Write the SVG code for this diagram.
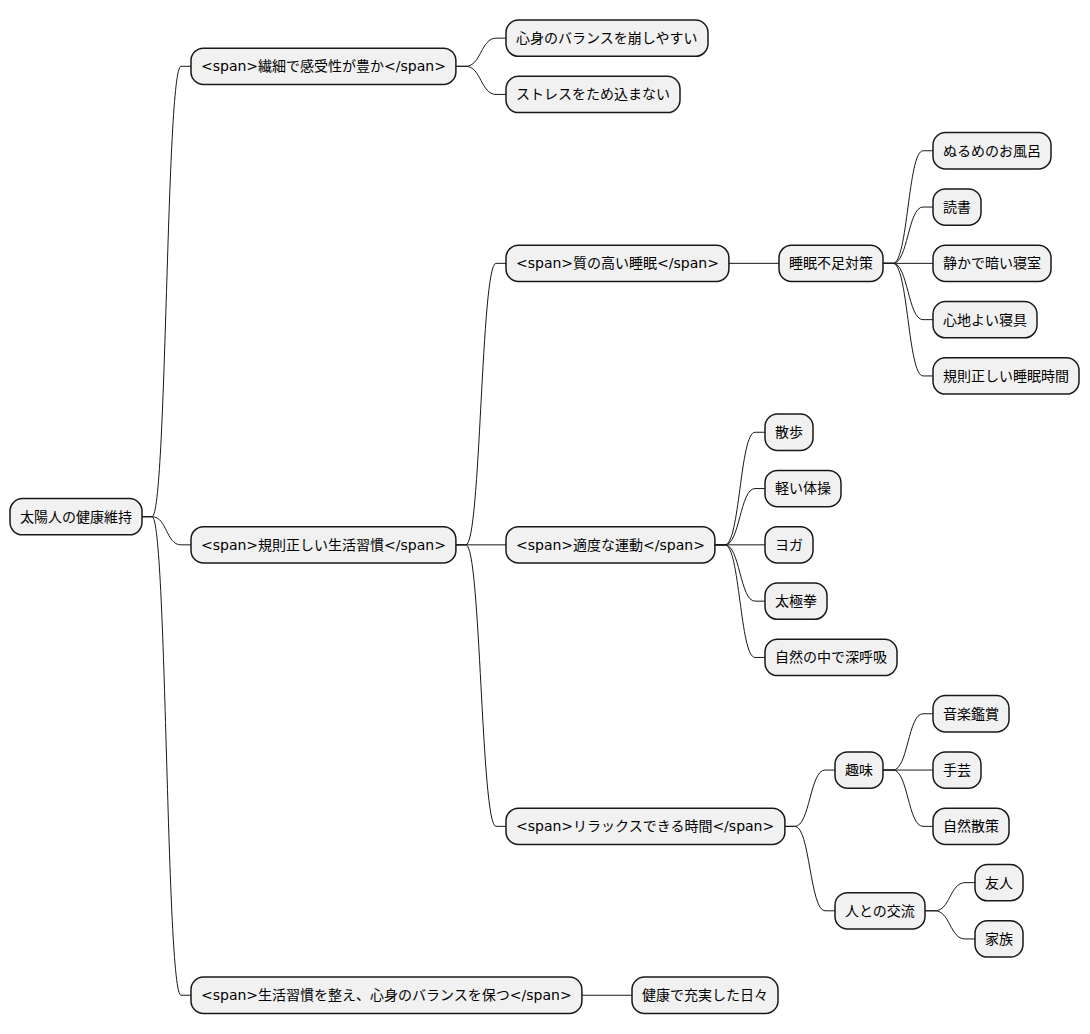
<svg xmlns="http://www.w3.org/2000/svg" width="1090" height="1034" viewBox="0 0 1090 1034">
<style>
.n rect{fill:#F1F1F1;stroke:#181818;stroke-width:1.5}
.n text{font-family:"DejaVu Sans","Noto Sans CJK JP",sans-serif;font-size:14px;fill:#000000}
#connectors path{fill:none;stroke:#181818;stroke-width:1}
</style>
<rect width="1090" height="1034" fill="#FFFFFF"/>
<g id="connectors">
<path d="M142,516.7 L152,516.7 C167,516.7 166,66.3 181,66.3 L191,66.3"/>
<path d="M142,516.7 L152,516.7 C167,516.7 166,544.85 181,544.85 L191,544.85"/>
<path d="M142,516.7 L152,516.7 C167,516.7 166,995.25 181,995.25 L191,995.25"/>
<path d="M455.9,66.3 L465.9,66.3 C480.9,66.3 481,38.15 496,38.15 L506,38.15"/>
<path d="M455.9,66.3 L465.9,66.3 C480.9,66.3 481,94.45 496,94.45 L506,94.45"/>
<path d="M455.9,544.85 L465.9,544.85 C480.9,544.85 481,263.35 496,263.35 L506,263.35"/>
<path d="M455.9,544.85 L506,544.85"/>
<path d="M455.9,544.85 L465.9,544.85 C480.9,544.85 481,826.35 496,826.35 L506,826.35"/>
<path d="M728.9,263.35 L779,263.35"/>
<path d="M883,263.35 L893,263.35 C908,263.35 908,150.75 923,150.75 L933,150.75"/>
<path d="M883,263.35 L893,263.35 C908,263.35 908,207.05 923,207.05 L933,207.05"/>
<path d="M883,263.35 L933,263.35"/>
<path d="M883,263.35 L893,263.35 C908,263.35 908,319.65 923,319.65 L933,319.65"/>
<path d="M883,263.35 L893,263.35 C908,263.35 908,375.95 923,375.95 L933,375.95"/>
<path d="M714.9,544.85 L724.9,544.85 C739.9,544.85 740,432.25 755,432.25 L765,432.25"/>
<path d="M714.9,544.85 L724.9,544.85 C739.9,544.85 740,488.55 755,488.55 L765,488.55"/>
<path d="M714.9,544.85 L765,544.85"/>
<path d="M714.9,544.85 L724.9,544.85 C739.9,544.85 740,601.15 755,601.15 L765,601.15"/>
<path d="M714.9,544.85 L724.9,544.85 C739.9,544.85 740,657.45 755,657.45 L765,657.45"/>
<path d="M784.9,826.35 L794.9,826.35 C809.9,826.35 810,770.05 825,770.05 L835,770.05"/>
<path d="M784.9,826.35 L794.9,826.35 C809.9,826.35 810,910.8 825,910.8 L835,910.8"/>
<path d="M883,770.05 L893,770.05 C908,770.05 908,713.75 923,713.75 L933,713.75"/>
<path d="M883,770.05 L933,770.05"/>
<path d="M883,770.05 L893,770.05 C908,770.05 908,826.35 923,826.35 L933,826.35"/>
<path d="M925,910.8 L935,910.8 C950,910.8 950,882.65 965,882.65 L975,882.65"/>
<path d="M925,910.8 L935,910.8 C950,910.8 950,938.95 965,938.95 L975,938.95"/>
<path d="M581.9,995.25 L632,995.25"/>
</g>
<g id="root" class="n"><rect x="10" y="498.55" width="132" height="36.3" rx="12.5"/><text x="20" y="521.6">太陽人の健康維持</text></g>
<g id="n1" class="n"><rect x="191" y="48.15" width="264.9" height="36.3" rx="12.5"/><text x="201" y="71.2">&lt;span&gt;繊細で感受性が豊か&lt;/span&gt;</text></g>
<g id="n1a" class="n"><rect x="506" y="20" width="202" height="36.3" rx="12.5"/><text x="516" y="43.05">心身のバランスを崩しやすい</text></g>
<g id="n1b" class="n"><rect x="506" y="76.3" width="174" height="36.3" rx="12.5"/><text x="516" y="99.35">ストレスをため込まない</text></g>
<g id="n2" class="n"><rect x="191" y="526.7" width="264.9" height="36.3" rx="12.5"/><text x="201" y="549.75">&lt;span&gt;規則正しい生活習慣&lt;/span&gt;</text></g>
<g id="n2a" class="n"><rect x="506" y="245.2" width="222.9" height="36.3" rx="12.5"/><text x="516" y="268.25">&lt;span&gt;質の高い睡眠&lt;/span&gt;</text></g>
<g id="n2a1" class="n"><rect x="779" y="245.2" width="104" height="36.3" rx="12.5"/><text x="789" y="268.25">睡眠不足対策</text></g>
<g id="n2a1a" class="n"><rect x="933" y="132.6" width="118" height="36.3" rx="12.5"/><text x="943" y="155.65">ぬるめのお風呂</text></g>
<g id="n2a1b" class="n"><rect x="933" y="188.9" width="48" height="36.3" rx="12.5"/><text x="943" y="211.95">読書</text></g>
<g id="n2a1c" class="n"><rect x="933" y="245.2" width="118" height="36.3" rx="12.5"/><text x="943" y="268.25">静かで暗い寝室</text></g>
<g id="n2a1d" class="n"><rect x="933" y="301.5" width="104" height="36.3" rx="12.5"/><text x="943" y="324.55">心地よい寝具</text></g>
<g id="n2a1e" class="n"><rect x="933" y="357.8" width="146" height="36.3" rx="12.5"/><text x="943" y="380.85">規則正しい睡眠時間</text></g>
<g id="n2b" class="n"><rect x="506" y="526.7" width="208.9" height="36.3" rx="12.5"/><text x="516" y="549.75">&lt;span&gt;適度な運動&lt;/span&gt;</text></g>
<g id="n2b1" class="n"><rect x="765" y="414.1" width="48" height="36.3" rx="12.5"/><text x="775" y="437.15">散歩</text></g>
<g id="n2b2" class="n"><rect x="765" y="470.4" width="76" height="36.3" rx="12.5"/><text x="775" y="493.45">軽い体操</text></g>
<g id="n2b3" class="n"><rect x="765" y="526.7" width="48" height="36.3" rx="12.5"/><text x="775" y="549.75">ヨガ</text></g>
<g id="n2b4" class="n"><rect x="765" y="583" width="62" height="36.3" rx="12.5"/><text x="775" y="606.05">太極拳</text></g>
<g id="n2b5" class="n"><rect x="765" y="639.3" width="132" height="36.3" rx="12.5"/><text x="775" y="662.35">自然の中で深呼吸</text></g>
<g id="n2c" class="n"><rect x="506" y="808.2" width="278.9" height="36.3" rx="12.5"/><text x="516" y="831.25">&lt;span&gt;リラックスできる時間&lt;/span&gt;</text></g>
<g id="n2c1" class="n"><rect x="835" y="751.9" width="48" height="36.3" rx="12.5"/><text x="845" y="774.95">趣味</text></g>
<g id="n2c1a" class="n"><rect x="933" y="695.6" width="76" height="36.3" rx="12.5"/><text x="943" y="718.65">音楽鑑賞</text></g>
<g id="n2c1b" class="n"><rect x="933" y="751.9" width="48" height="36.3" rx="12.5"/><text x="943" y="774.95">手芸</text></g>
<g id="n2c1c" class="n"><rect x="933" y="808.2" width="76" height="36.3" rx="12.5"/><text x="943" y="831.25">自然散策</text></g>
<g id="n2c2" class="n"><rect x="835" y="892.65" width="90" height="36.3" rx="12.5"/><text x="845" y="915.7">人との交流</text></g>
<g id="n2c2a" class="n"><rect x="975" y="864.5" width="48" height="36.3" rx="12.5"/><text x="985" y="887.55">友人</text></g>
<g id="n2c2b" class="n"><rect x="975" y="920.8" width="48" height="36.3" rx="12.5"/><text x="985" y="943.85">家族</text></g>
<g id="n3" class="n"><rect x="191" y="977.1" width="390.9" height="36.3" rx="12.5"/><text x="201" y="1000.15">&lt;span&gt;生活習慣を整え、心身のバランスを保つ&lt;/span&gt;</text></g>
<g id="n3a" class="n"><rect x="632" y="977.1" width="146" height="36.3" rx="12.5"/><text x="642" y="1000.15">健康で充実した日々</text></g>
</svg>
